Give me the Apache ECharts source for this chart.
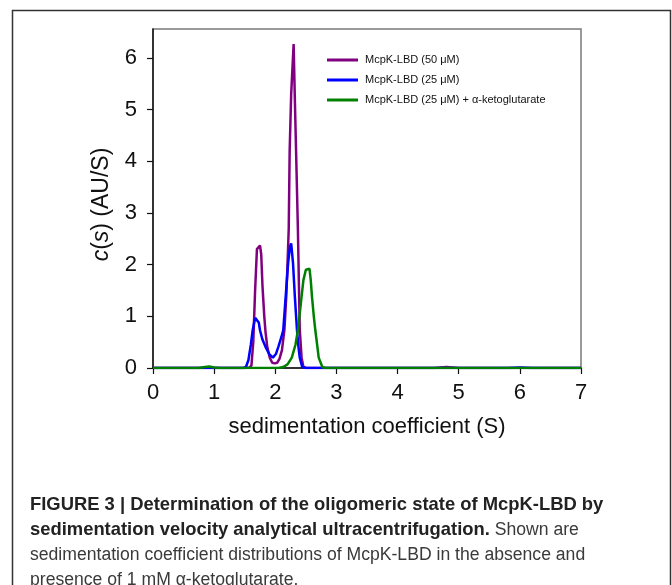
<!DOCTYPE html>
<html>
<head>
<meta charset="utf-8">
<script src="https://cdn.jsdelivr.net/npm/echarts@6/dist/echarts.min.js"></script>
<style>
html,body{margin:0;padding:0;background:#fff;}
#chart{width:672px;height:585px;}
</style>
</head>
<body>
<div id="chart"></div>
<script>
// ---- Data ----
const seriesNames = ['McpK-LBD (50 μM)', 'McpK-LBD (25 μM)', 'McpK-LBD (25 μM) + α-ketoglutarate'];
const xTicks = [0, 1, 2, 3, 4, 5, 6, 7];
const yTicks = [0, 1, 2, 3, 4, 5, 6];

const purple50 = [
  [0,0],[1.5,0],[1.58,0.01],[1.61,0.05],[1.64,0.5],[1.67,1.5],[1.70,2.3],[1.72,2.3],[1.75,2.37],[1.77,2.2],
  [1.79,1.6],[1.82,1.0],[1.84,0.7],[1.87,0.4],[1.91,0.2],[1.95,0.1],[1.99,0.09],[2.03,0.1],[2.07,0.18],
  [2.11,0.35],[2.15,0.75],[2.18,1.4],[2.20,2.0],[2.22,2.7],[2.235,4.2],[2.26,5.3],[2.30,6.27],[2.32,5.2],
  [2.34,4.2],[2.37,2.67],[2.40,0.75],[2.43,0.2],[2.46,0.02],[2.5,0],[4.6,0],[4.8,0.02],[5.0,0],[7,0]
];
const blue25 = [
  [0,0],[1.48,0],[1.52,0.02],[1.56,0.15],[1.60,0.45],[1.63,0.73],[1.67,0.97],[1.70,1.0],[1.73,0.88],[1.75,0.73],
  [1.79,0.55],[1.84,0.41],[1.90,0.27],[1.96,0.2],[2.01,0.27],[2.05,0.41],[2.10,0.6],[2.13,0.73],[2.17,1.38],
  [2.21,2.03],[2.24,2.35],[2.26,2.41],[2.29,2.03],[2.32,1.38],[2.355,0.73],[2.38,0.4],[2.40,0.2],[2.44,0.02],
  [2.5,0],[5.8,0],[6.0,0.01],[6.2,0],[7,0]
];
const green25kg = [
  [0,0],[0.75,0],[0.85,0.02],[0.92,0.03],[1.0,0.01],[1.1,0],[2.05,0],[2.13,0.02],[2.2,0.07],[2.27,0.2],
  [2.33,0.45],[2.37,0.73],[2.43,1.38],[2.46,1.7],[2.50,1.9],[2.53,1.93],[2.56,1.92],[2.58,1.7],[2.60,1.38],
  [2.63,1.0],[2.655,0.73],[2.69,0.4],[2.71,0.2],[2.77,0.02],[2.82,0],[7,0]
];

const captionLines = [
  {bold: 'FIGURE 3 | Determination of the oligomeric state of McpK-LBD by', normal: ''},
  {bold: 'sedimentation velocity analytical ultracentrifugation.', normal: ' Shown are'},
  {bold: '', normal: 'sedimentation coefficient distributions of McpK-LBD in the absence and'},
  {bold: '', normal: 'presence of 1 mM α-ketoglutarate.'}
];

// ---- Chart ----
const FONT = 'Liberation Sans, Arial, sans-serif';
const chart = echarts.init(document.getElementById('chart'), null, {renderer: 'canvas'});
const colors = ['#800080', '#0000ff', '#008000'];

const captionGraphics = captionLines.map((ln, i) => {
  let txt = '';
  if (ln.bold) txt += '{b|' + ln.bold + '}';
  if (ln.normal) txt += '{n|' + ln.normal + '}';
  return {
    type: 'text', x: 30, y: 505 + i * 25.2,
    style: {
      text: txt, textVerticalAlign: 'middle',
      rich: {
        b: {fontFamily: FONT, fontSize: 18.4, fontWeight: 'bold', fill: '#222'},
        n: {fontFamily: FONT, fontSize: 17.6, fontWeight: 'normal', fill: '#3a3a3a'}
      }
    }
  };
});

const option = {
  animation: false,
  backgroundColor: '#fff',
  grid: {left: 153, right: 91, top: 29, bottom: 217, show: true, borderColor: '#7a7a7a', borderWidth: 1.5, backgroundColor: 'transparent'},
  legend: {
    orient: 'vertical', left: 322, top: 45, itemWidth: 31, itemHeight: 3, itemGap: 0,
    icon: 'rect',
    textStyle: {fontFamily: FONT, fontSize: 11, color: '#111', lineHeight: 20, padding: [0, 0, 0, 2]},
    data: seriesNames
  },
  xAxis: {
    type: 'value', min: 0, max: 7, interval: 1,
    name: 'sedimentation coefficient (S)', nameLocation: 'middle', nameGap: 48,
    nameTextStyle: {fontFamily: FONT, fontSize: 22, color: '#111'},
    axisLine: {lineStyle: {color: '#111', width: 1.5}},
    axisTick: {show: true, inside: false, length: 6, lineStyle: {color: '#111', width: 1.2}, customValues: xTicks},
    axisLabel: {fontFamily: FONT, fontSize: 22, color: '#111', margin: 14, customValues: xTicks},
    splitLine: {show: false}
  },
  yAxis: {
    type: 'value', min: 0, max: 6.56, interval: 1,
    name: '{i|c}({i|s}) (AU/S)', nameLocation: 'middle', nameGap: 40,
    nameTextStyle: {fontFamily: FONT, fontSize: 23, color: '#111', padding: [0, 12, 0, 0],
      rich: {i: {fontFamily: FONT, fontSize: 23, fontStyle: 'italic', color: '#111'}}},
    axisLine: {show: true, lineStyle: {color: '#111', width: 1.5}},
    axisTick: {show: true, inside: false, length: 6, lineStyle: {color: '#111', width: 1.2}, customValues: yTicks},
    axisLabel: {fontFamily: FONT, fontSize: 22, color: '#111', margin: 16, customValues: yTicks},
    splitLine: {show: false}
  },
  series: [
    {name: seriesNames[0], type: 'line', data: purple50, showSymbol: false, symbol: 'none', lineStyle: {width: 2.5, color: colors[0]}, itemStyle: {color: colors[0]}, z: 3},
    {name: seriesNames[1], type: 'line', data: blue25, showSymbol: false, symbol: 'none', lineStyle: {width: 2.5, color: colors[1]}, itemStyle: {color: colors[1]}, z: 4},
    {name: seriesNames[2], type: 'line', data: green25kg, showSymbol: false, symbol: 'none', lineStyle: {width: 2.5, color: colors[2]}, itemStyle: {color: colors[2]}, z: 5}
  ],
  graphic: [
    {type: 'rect', shape: {x: 12.5, y: 10.5, width: 658, height: 600}, style: {fill: 'none', stroke: '#333', lineWidth: 1.5}, silent: true},
    ...captionGraphics
  ]
};
chart.setOption(option);
</script>
</body>
</html>
